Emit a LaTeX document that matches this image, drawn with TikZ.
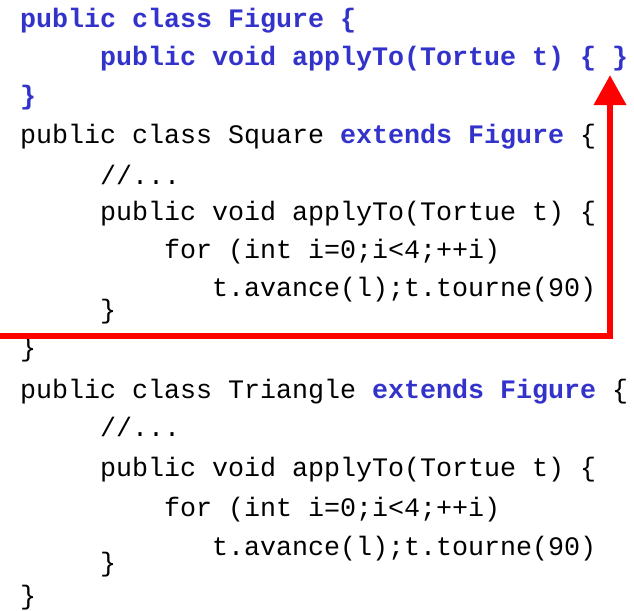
\documentclass[tikz,border=0pt]{standalone}
\usepackage{fontspec}
\newfontfamily\codefont{Liberation Mono}
\usetikzlibrary{arrows.meta}
\definecolor{kwblue}{RGB}{51,51,204}
\definecolor{jumpred}{RGB}{255,0,0}
\newcommand{\kw}[1]{{\bfseries\color{kwblue}#1}}
\tikzset{
  codeline/.style={anchor=base west, inner sep=0pt, outer sep=0pt,
    font=\codefont\fontsize{26.67}{32}\selectfont, text=black},
  baseline kw/.style={codeline, text=kwblue, font=\codefont\bfseries\fontsize{26.67}{32}\selectfont},
  jump/.style={draw=jumpred, line width=6.5pt,
    -{Triangle[width=31pt,length=30pt]}}
}
\begin{document}
\begin{tikzpicture}[x=1pt,y=-1pt]
\useasboundingbox[fill=white] (0,0) rectangle (634,610);
% column positions: one character is 16 units wide
\def\cA{20}
\def\cB{100}
\def\cC{164}
\def\cD{212}
% base class
\node[baseline kw] (figHead)  at (\cA,28)  {public class Figure \{};
\node[baseline kw] (figApply) at (\cB,66)  {public void applyTo(Tortue t) \{ \}};
\node[baseline kw] (figEnd)   at (\cA,104) {\}};
% Square
\node[codeline] (sqHead)  at (\cA,143) {public class Square \kw{extends Figure} \{};
\node[codeline] (sqDots)  at (\cB,184) {//...};
\node[codeline] (sqApply) at (\cB,220) {public void applyTo(Tortue t) \{};
\node[codeline] (sqFor)   at (\cC,258) {for (int i=0;i<4;++i)};
\node[codeline] (sqBody)  at (\cD,296) {t.avance(l);t.tourne(90)};
\node[codeline] (sqEndM)  at (\cB,318) {\}};
\node[codeline] (sqEnd)   at (\cA,356) {\}};
% Triangle
\node[codeline] (trHead)  at (\cA,398) {public class Triangle \kw{extends Figure} \{};
\node[codeline] (trDots)  at (\cB,436) {//...};
\node[codeline] (trApply) at (\cB,476) {public void applyTo(Tortue t) \{};
\node[codeline] (trFor)   at (\cC,516) {for (int i=0;i<4;++i)};
\node[codeline] (trBody)  at (\cD,555) {t.avance(l);t.tourne(90)};
\node[codeline] (trEndM)  at (\cB,571) {\}};
\node[codeline] (trEnd)   at (\cA,604) {\}};
% jump back to the method of the base class
\coordinate (jumpStart) at (0,336);
\coordinate (jumpTip)   at (610,75);
\draw[jump] (jumpStart) -| (jumpTip);
\end{tikzpicture}
\end{document}
